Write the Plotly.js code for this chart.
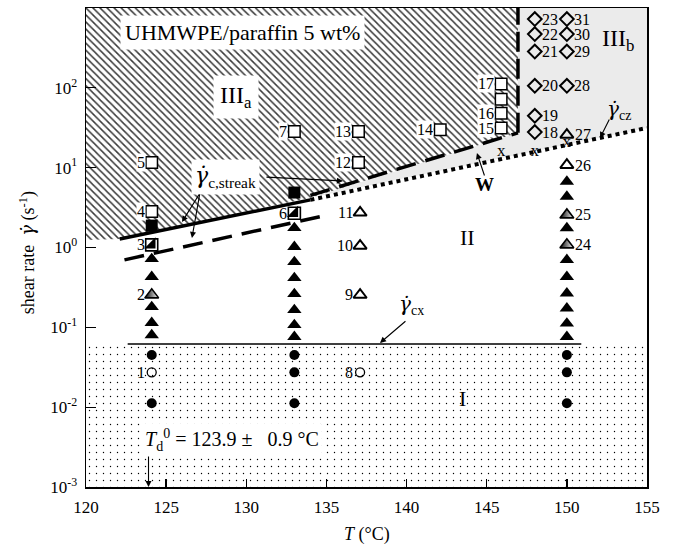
<!DOCTYPE html>
<html><head><meta charset="utf-8">
<script src="https://cdn.plot.ly/plotly-3.0.1.min.js"></script>
<style>body{margin:0;background:#fff}#plot{width:675px;height:549px}</style>
</head><body><div id="plot"></div>
<script>
// ---- region boundaries (T in °C, shear rate in 1/s) ----
const hatchT = [120, 120, 122.1, 134.0, 146.95, 146.95];
const hatchG = [1000, 1.24, 1.28, 4.2, 27.3, 1000];
const grayT = [134.0, 146.95, 146.95, 155, 155];
const grayG = [4.2, 27.3, 1000, 1000, 31.5];
const dotRegT = [120, 155, 155, 120];
const dotRegG = [0.001, 0.001, 0.062, 0.062];

// ---- critical lines ----
const cxT = [122.6, 150.9], cxG = [0.062, 0.062];
const streakSolidT = [122.1, 134.0], streakSolidG = [1.28, 3.95];
const streakUpperT = [134.0, 146.95], streakUpperG = [4.5, 27.3];
const streakLowerT = [122.4, 135.1], streakLowerG = [0.70, 2.56];
const czT = [134.0, 155], czG = [3.95, 31.5];
const vertT = [146.95, 146.95], vertG = [27.3, 1000];

// ---- data points ----
const triFilledT = [124.1,124.1,124.1,124.1,124.1, 133,133,133,133,133,133,133,133, 150,150,150,150,150,150,150,150,150];
const triFilledG = [0.72,0.43,0.18,0.114,0.080, 1.76,1.02,0.66,0.416,0.262,0.165,0.107,0.076, 6.7,4.35,1.75,0.70,0.43,0.267,0.173,0.112,0.076];
const triHalfT = [124.1, 150, 150];
const triHalfG = [0.255, 2.56, 1.08];
const triOpenT = [137.1, 137.1, 137.1, 150, 150];
const triOpenG = [0.255, 1.05, 2.73, 10.8, 25.8];
const sqFilledT = [124.1, 133];
const sqFilledG = [1.88, 4.88];
const sqHalfT = [124.1, 133];
const sqHalfG = [1.08, 2.69];
const sqOpenT = [124.1, 124.1, 133, 137, 137, 142.1, 145.9, 145.9, 145.9, 145.9];
const sqOpenG = [2.82, 11.6, 28.4, 11.6, 28.4, 29.8, 31.3, 48.2, 72.2, 112];
const circFilledT = [124.1, 124.1, 133, 133, 133, 150, 150, 150];
const circFilledG = [0.045, 0.0112, 0.045, 0.0273, 0.0112, 0.045, 0.0273, 0.0112];
const circOpenT = [124.1, 137.1];
const circOpenG = [0.0273, 0.0273];
const diaOpenT = [148, 148, 148, 148, 148, 148, 150, 150, 150, 150];
const diaOpenG = [27.9, 44.6, 106, 285, 471, 726, 106, 285, 471, 726];
const xMarkT = [145.9, 148, 150];
const xMarkG = [15.9, 15.9, 20.3];

// ---- point number labels ----
const labelText = ['1','2','3','4','5','6','7','8','9','10','11','12','13','14','15','16','17',
  '18','19','20','21','22','23','24','25','26','27','28','29','30','31'];
const labelT = [124.1,124.1,124.1,124.1,124.1,133,133,137.1,137.1,137.1,137.1,137,137,142.1,145.9,145.9,145.9,
  148,148,148,148,148,148,150,150,150,150,150,150,150,150];
const labelG = [0.0273,0.255,1.08,2.82,11.6,2.69,28.4,0.0273,0.255,1.05,2.73,11.6,28.4,29.8,31.3,48.2,112,
  27.9,44.6,106,285,471,726,1.08,2.56,10.8,25.8,106,285,471,726];
const labelBg = [0,0,0,1,1,0,1,0,0,0,0,1,1,1,1,1,1, 0,0,0,0,0,0,0,0,0,0,0,0,0,0];

// ---- axis ticks ----
const xTicks = [120,125,130,135,140,145,150,155];
const yTickVals = [0.001, 0.01, 0.1, 1, 10, 100];
const yTickText = ['10<sup>-3</sup>','10<sup>-2</sup>','10<sup>-1</sup>','10<sup>0</sup>','10<sup>1</sup>','10<sup>2</sup>'];

const FF = '"Liberation Serif", "DejaVu Serif", serif';
const traces = [];

// region fills
traces.push({x: dotRegT, y: dotRegG, type:'scatter', mode:'none', fill:'toself', fillcolor:'white',
  fillpattern:{shape:'.', size:7, solidity:0.03, fgcolor:'#000', bgcolor:'white'}, hoverinfo:'skip', showlegend:false});
traces.push({x: grayT, y: grayG, type:'scatter', mode:'none', fill:'toself', fillcolor:'#ebebeb', hoverinfo:'skip', showlegend:false});
traces.push({x: hatchT, y: hatchG, type:'scatter', mode:'none', fill:'toself', fillcolor:'white',
  fillpattern:{shape:'\\', size:5, solidity:0.3, fgcolor:'#3a3a3a', bgcolor:'white'}, hoverinfo:'skip', showlegend:false});

// lines
function line(x, y, w, dash) {
  traces.push({x, y, type:'scatter', mode:'lines', line:{color:'black', width:w, dash:dash||'solid'}, hoverinfo:'skip', showlegend:false});
}
line(cxT, cxG, 1.5);
line(streakSolidT, streakSolidG, 3.5);
line(streakUpperT, streakUpperG, 3.5, '20px,10px');
line(streakLowerT, streakLowerG, 3.5, '20px,10px');
line(czT, czG, 4, '4px,4px');
line(vertT, vertG, 3.5, '20px,7px');

// markers
function pts(x, y, symbol, size, color, lw, extra) {
  const m = Object.assign({symbol, size, color, line:{color:'black', width:lw}}, extra || {});
  traces.push({x, y, type:'scatter', mode:'markers', marker:m, hoverinfo:'skip', showlegend:false, cliponaxis:false});
}
pts(circFilledT, circFilledG, 'circle', 10, 'black', 0);
pts(circOpenT, circOpenG, 'circle-open', 9, 'black', 1.3);
pts(triFilledT, triFilledG, 'triangle-up', 12.5, 'black', 0);
pts(triHalfT, triHalfG, 'triangle-up', 12, 'black', 1.6, {gradient:{type:'horizontal', color:'white'}});
pts(triOpenT, triOpenG, 'triangle-up-open', 11.5, 'black', 2);
pts(sqFilledT, sqFilledG, 'square', 12, 'black', 0);
pts(sqHalfT, sqHalfG, 'square', 12, 'white', 0);
pts(sqHalfT, sqHalfG, 'triangle-se', 12.5, 'black', 0);
pts(sqHalfT, sqHalfG, 'square-open', 12, 'black', 1.6);
pts(sqOpenT, sqOpenG, 'square', 11.5, 'white', 1.5);
pts(diaOpenT, diaOpenG, 'diamond-open', 10.5, 'black', 2);
traces.push({x: xMarkT, y: xMarkG, type:'scatter', mode:'text', text: xMarkT.map(()=>'x'),
  textfont:{family:FF, size:17, color:'black'}, textposition:'middle center', hoverinfo:'skip', showlegend:false});

// annotations
const ann = [];
for (let i = 0; i < labelText.length; i++) {
  const left = i < 17;
  ann.push({x: labelT[i], y: Math.log10(labelG[i]), xref:'x', yref:'y', text: labelText[i], showarrow:false,
    xanchor: left ? 'right' : 'left', xshift: left ? -6 : (labelT[i] === 150 && i < 27 ? 7 : 6),
    font:{family:FF, size:16, color:'black'}, bgcolor: labelBg[i] ? 'white' : 'rgba(0,0,0,0)', borderpad:0});
}
function txt(text, x, ly, size, bg, extra) {
  ann.push(Object.assign({x, y: ly, xref:'x', yref:'y', text, showarrow:false,
    font:{family:FF, size, color:'black'}, bgcolor: bg ? 'white' : 'rgba(0,0,0,0)', borderpad: bg ? 3 : 0}, extra||{}));
}
const GD = '<span style="font-family:DejaVu Serif"><i>γ̇</i></span>';
txt('UHMWPE/paraffin 5 wt%', 129.79, 2.689, 22, true, {borderpad:4});
txt('III<sub>a</sub>', 129.36, 1.887, 24, true, {borderpad:6});
txt('III<sub>b</sub>', 153.19, 2.60, 24, false);
txt('II', 143.83, 0.12, 22, false);
txt('I', 143.46, -1.897, 22, false);
txt('<b>W</b>', 144.89, 0.784, 19, false);
txt(GD + '<sub>c,streak</sub>', 128.73, 0.885, 22, true, {borderpad:3});
txt(GD + '<sub>cx</sub>', 140.3, -0.72, 20, false);
txt(GD + '<sub>cz</sub>', 153.25, 1.724, 20, false);
txt('<i>T</i><sub>d</sub><sup>0</sup> = 123.9 ±   0.9 °C', 129.1, -2.411, 20, true, {borderpad:2});

function arrow(x, ly, ax, ay) {
  ann.push({x, y: ly, xref:'x', yref:'y', ax, ay, text:'', showarrow:true, arrowhead:2, arrowsize:1.1, arrowwidth:1.1, arrowcolor:'black'});
}
arrow(136.03, 0.833, -78, -4);
arrow(125.99, 0.320, 18, -29);
arrow(126.61, 0.120, 8, -45);
arrow(138.34, -1.196, 27, -23);
arrow(152.07, 1.372, 10, -20);
arrow(144.39, 1.184, 8, 24);
arrow(123.9, -3, 0, -32);

// axis titles
ann.push({xref:'paper', yref:'paper', x:0.5, y:-0.1, text:'<i>T</i> (°C)', showarrow:false,
  font:{family:FF, size:18, color:'black'}, xanchor:'center', yanchor:'middle'});
ann.push({xref:'paper', yref:'paper', x:-0.1034, y:0.49, text:'shear rate  ' + GD + ' (s<sup>-1</sup>)', showarrow:false,
  textangle:-90, font:{family:FF, size:18, color:'black'}, xanchor:'center', yanchor:'middle'});

const layout = {
  width:675, height:549,
  margin:{l:86, r:28, t:8, b:62},
  paper_bgcolor:'white', plot_bgcolor:'white',
  showlegend:false,
  font:{family:FF, color:'black'},
  xaxis:{range:[120,155], tickvals:xTicks, ticks:'inside', ticklen:8, tickwidth:1.3, tickcolor:'black',
    showline:true, linecolor:'black', linewidth:1.5, mirror:true, showgrid:false, zeroline:false,
    tickfont:{family:FF, size:17, color:'black'}, ticklabelstandoff:4},
  yaxis:{type:'log', range:[-3,3], tickvals:yTickVals, ticktext:yTickText, ticks:'inside', ticklen:10, tickwidth:1.3, tickcolor:'black',
    showline:true, linecolor:'black', linewidth:1.5, mirror:true, showgrid:false, zeroline:false,
    tickfont:{family:FF, size:17, color:'black'}, ticklabelstandoff:4},
  annotations: ann
};
Plotly.newPlot('plot', traces, layout, {displayModeBar:false, staticPlot:true});
</script></body></html>
